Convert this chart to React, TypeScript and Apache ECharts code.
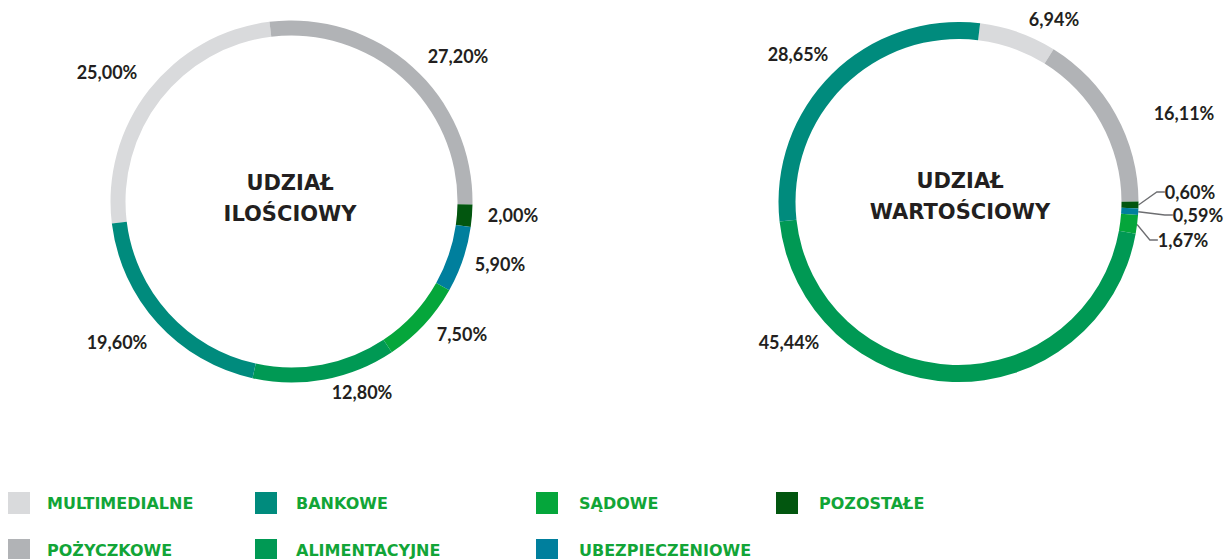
import React, { useEffect, useRef } from 'react';
import * as echarts from 'echarts';

// ---- data ----
const categories = ['MULTIMEDIALNE', 'POŻYCZKOWE', 'POZOSTAŁE', 'UBEZPIECZENIOWE', 'SĄDOWE', 'ALIMENTACYJNE', 'BANKOWE'];
const countShare = [25.0, 27.2, 2.0, 5.9, 7.5, 12.8, 19.6];
const valueShare = [6.94, 16.11, 0.6, 0.59, 1.67, 45.44, 28.65];
const legendColumns = [
  ['MULTIMEDIALNE', 'POŻYCZKOWE'],
  ['BANKOWE', 'ALIMENTACYJNE'],
  ['SĄDOWE', 'UBEZPIECZENIOWE'],
  ['POZOSTAŁE'],
];
const titleLeft = 'UDZIAŁ\nILOŚCIOWY';
const titleRight = 'UDZIAŁ\nWARTOŚCIOWY';

// ---- styles / layout ----
const colors: Record<string, string> = {
  MULTIMEDIALNE: '#d9dadc',
  POŻYCZKOWE: '#b1b3b6',
  POZOSTAŁE: '#02560f',
  UBEZPIECZENIOWE: '#007f9d',
  SĄDOWE: '#05a63b',
  ALIMENTACYJNE: '#009954',
  BANKOWE: '#008b7d',
};
const leftLabelPos: Record<string, [number, number]> = {
  MULTIMEDIALNE: [107, 72],
  POŻYCZKOWE: [458, 56],
  POZOSTAŁE: [513, 215],
  UBEZPIECZENIOWE: [500, 264],
  SĄDOWE: [462, 334],
  ALIMENTACYJNE: [362, 392],
  BANKOWE: [117, 342],
};
const rightLabelPos: Record<string, [number, number]> = {
  MULTIMEDIALNE: [1054, 19],
  POŻYCZKOWE: [1184, 113],
  POZOSTAŁE: [1190, 192],
  UBEZPIECZENIOWE: [1198, 215],
  SĄDOWE: [1183, 240],
  ALIMENTACYJNE: [789, 342],
  BANKOWE: [798, 54],
};
const withLeader = ['POZOSTAŁE', 'UBEZPIECZENIOWE', 'SĄDOWE'];
const legendLeft = [8, 255, 536, 776];
const legendTextGap = [12, 14, 16, 16];
const textDark = '#231f20';
const legendGreen = '#12a537';

const fmt = (v: number) => v.toFixed(2).replace('.', ',') + '%';

const labelStyle = {
  show: true,
  position: 'outside',
  formatter: (p: any) => fmt(p.value),
  color: textDark,
  fontFamily: 'Lato',
  fontWeight: 'bold',
  fontSize: 18,
};

export default function App() {
  const ref = useRef<HTMLDivElement>(null);
  useEffect(() => {
    if (!ref.current) return;
    const chart = echarts.init(ref.current, null, { renderer: 'svg' });
    const option: any = {
      animation: false,
      backgroundColor: '#ffffff',
      legend: legendColumns.map((col, i) => ({
        data: col,
        orient: 'vertical',
        left: legendLeft[i],
        top: 492,
        height: 90,
        padding: 0,
        itemGap: 25,
        itemWidth: 22,
        itemHeight: 22,
        icon: 'rect',
        selectedMode: false,
        textStyle: {
          color: legendGreen,
          fontFamily: 'DejaVu Sans',
          fontWeight: 'bold',
          fontSize: 16,
          padding: [0, 0, 0, legendTextGap[i]],
        },
      })),
      graphic: [
        {
          type: 'text',
          x: 290,
          y: 198.5,
          style: {
            text: titleLeft,
            align: 'center',
            verticalAlign: 'middle',
            fill: textDark,
            fontFamily: 'DejaVu Sans',
            fontWeight: 'bold',
            fontSize: 21,
            lineHeight: 31,
          },
        },
        {
          type: 'text',
          x: 960,
          y: 196,
          style: {
            text: titleRight,
            align: 'center',
            verticalAlign: 'middle',
            fill: textDark,
            fontFamily: 'DejaVu Sans',
            fontWeight: 'bold',
            fontSize: 21,
            lineHeight: 31,
          },
        },
      ],
      series: [
        {
          type: 'pie',
          center: [291.5, 201.5],
          radius: [166, 181],
          startAngle: 187,
          clockwise: true,
          avoidLabelOverlap: false,
          silent: true,
          label: labelStyle,
          labelLine: { show: false },
          labelLayout: (p: any) => {
            const pos = leftLabelPos[categories[p.dataIndex]];
            return { x: pos[0], y: pos[1], align: 'center', verticalAlign: 'middle' };
          },
          data: categories.map((c, i) => ({ name: c, value: countShare[i], itemStyle: { color: colors[c] } })),
        },
        {
          type: 'pie',
          center: [958.5, 202],
          radius: [163, 180],
          startAngle: 83.1,
          clockwise: true,
          avoidLabelOverlap: false,
          silent: true,
          label: labelStyle,
          labelLine: { show: false },
          labelLayout: (p: any) => {
            const pos = rightLabelPos[categories[p.dataIndex]];
            return { x: pos[0], y: pos[1], align: 'center', verticalAlign: 'middle' };
          },
          data: categories.map((c, i) => ({
            name: c,
            value: valueShare[i],
            itemStyle: { color: colors[c] },
            labelLine: withLeader.includes(c)
              ? { show: true, length: 8, length2: 8, lineStyle: { color: '#6d6e71', width: 1.3 } }
              : { show: false },
          })),
        },
      ],
    };
    chart.setOption(option);
    return () => chart.dispose();
  }, []);
  return <div ref={ref} style={{ position: 'fixed', left: 0, top: 0, width: 1226, height: 559 }} />;
}
